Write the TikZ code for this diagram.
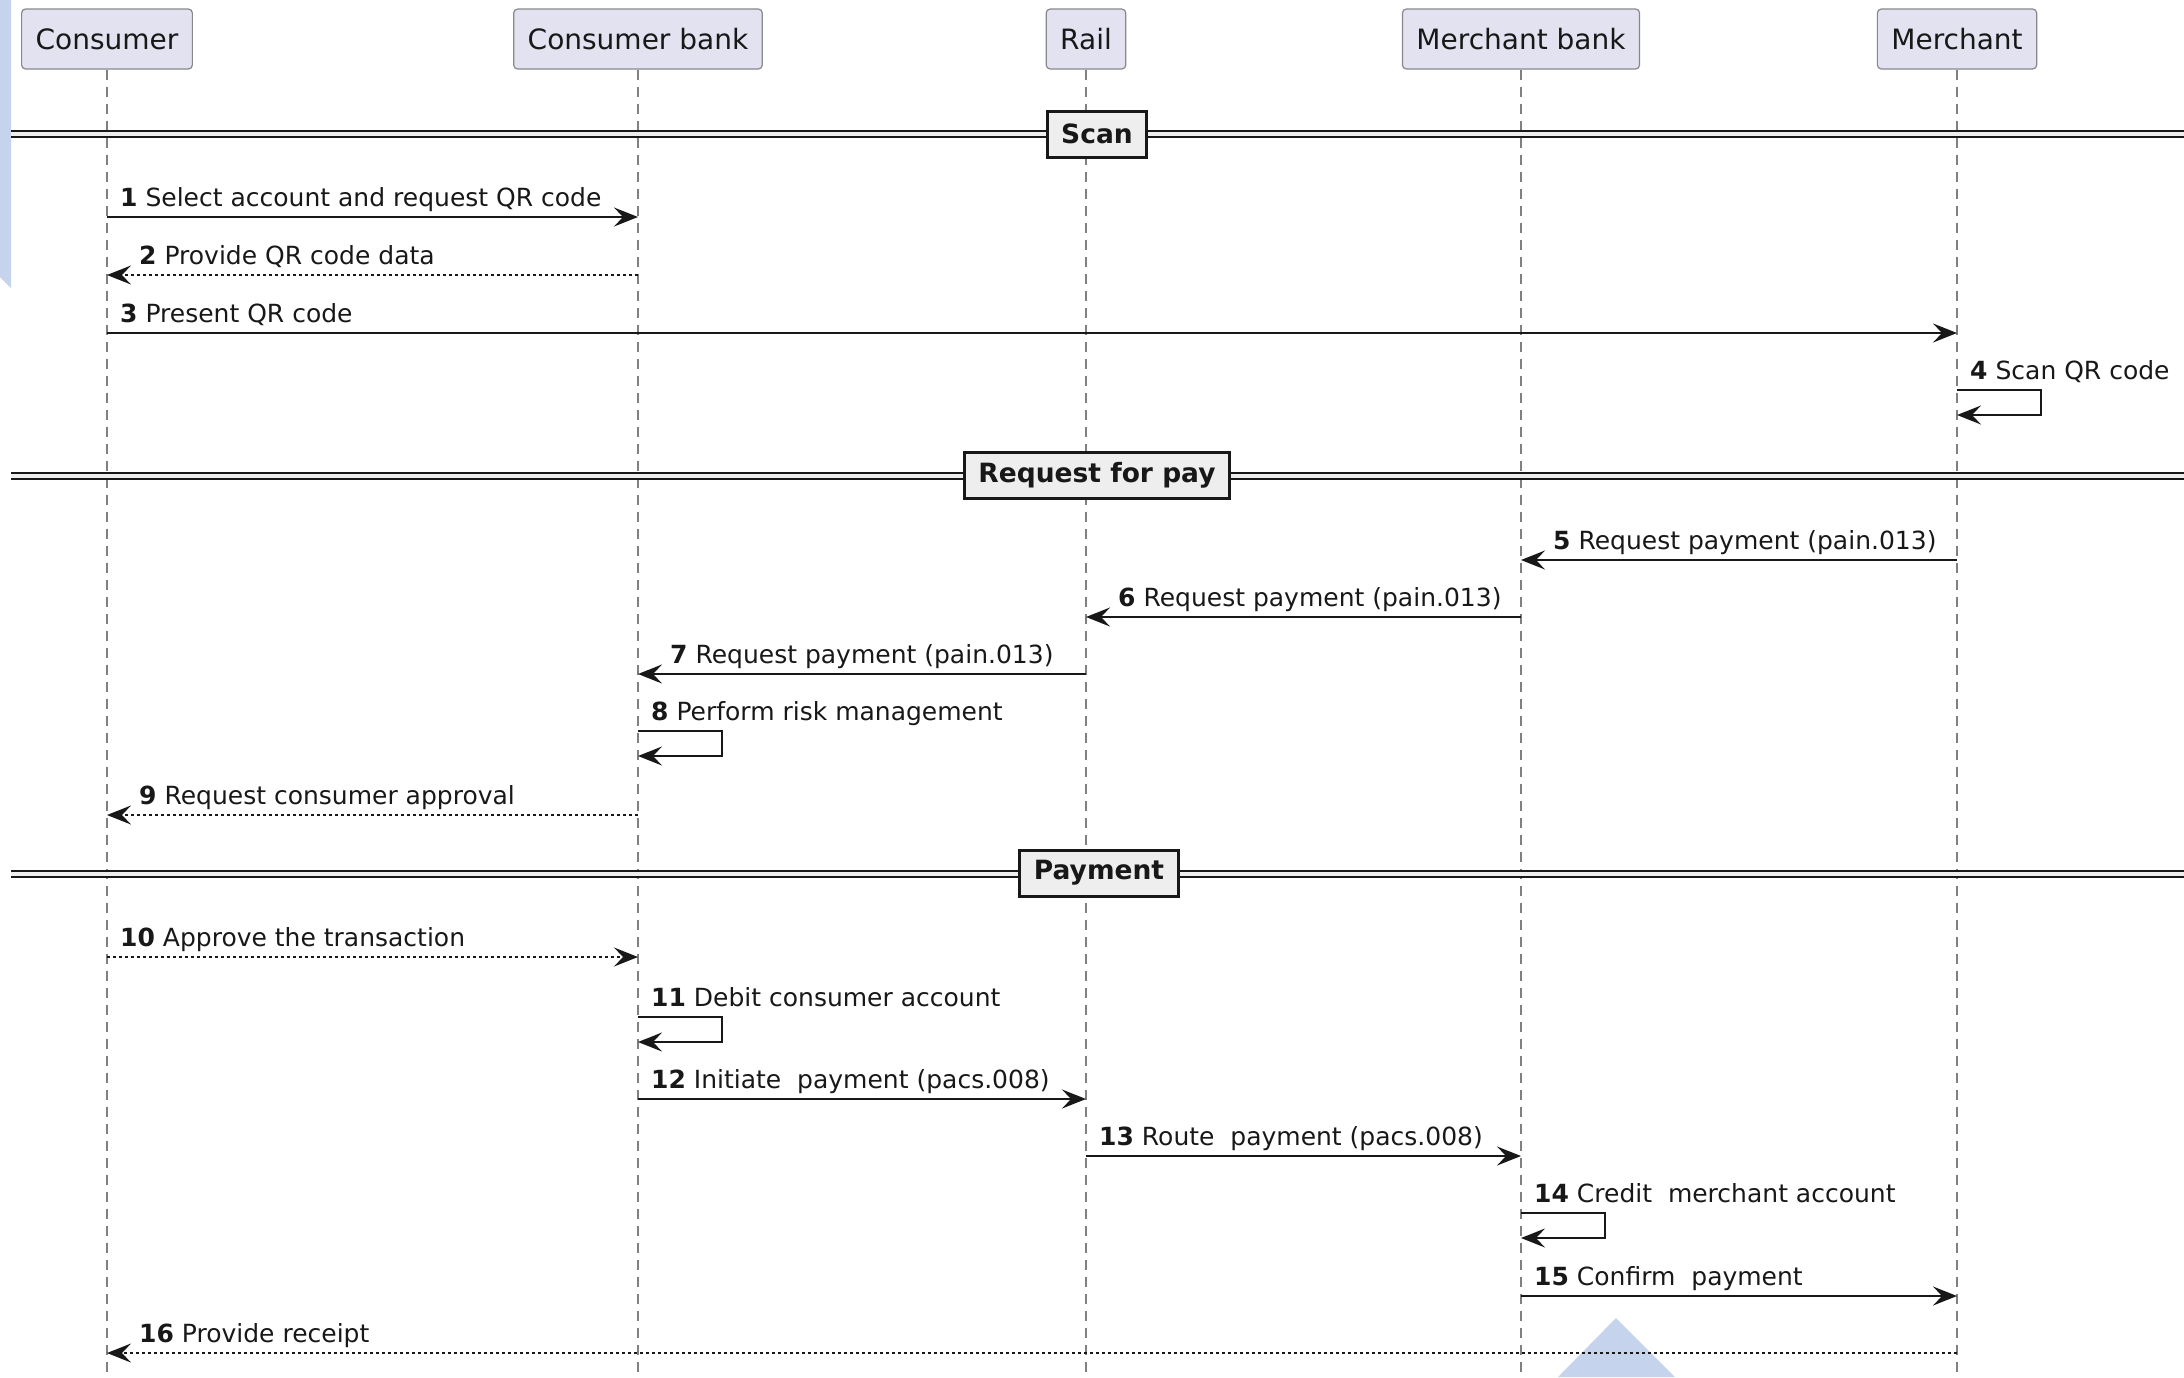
\documentclass[tikz,border=0pt]{standalone}
\usepackage{fontspec}
\setmainfont{DejaVu Sans}
\usetikzlibrary{arrows.meta}
\definecolor{partfill}{RGB}{226,226,240}
\definecolor{partline}{RGB}{136,136,140}
\definecolor{ink}{RGB}{24,24,24}
\definecolor{sepfill}{RGB}{238,238,238}
\definecolor{wmark}{RGB}{197,211,236}
\tikzstyle{participant} = [rectangle, draw=partline, fill=partfill, text=ink,
    rounded corners=4pt, line width=1.2pt, minimum height=60pt, inner xsep=14pt,
    font=\fontsize{28}{32}\selectfont]
\tikzstyle{lifeline} = [draw=gray, line width=1.2pt, dash pattern=on 10pt off 7pt]
\tikzstyle{msg} = [draw=ink, line width=1.8pt, -{Stealth[length=24pt,width=19pt,inset=9pt]}]
\tikzstyle{reply} = [msg, line width=1.5pt, dash pattern=on 3pt off 3pt]
\tikzstyle{txt} = [anchor=base west, inner sep=0pt, text=ink, font=\fontsize{25}{30}\selectfont]
\tikzstyle{sep} = [draw=ink, line width=2pt, double=sepfill, double distance=3.5pt]
\tikzstyle{divider} = [rectangle, draw=ink, fill=sepfill, text=ink, line width=3pt,
    minimum height=46pt, inner xsep=14pt, font=\fontsize{26.5}{30}\selectfont\bfseries]

\begin{document}
\begin{tikzpicture}[x=1pt, y=-1pt]
  \useasboundingbox (0,0) rectangle (2184,1377);
  \fill [wmark] (0,0) -- (11,0) -- (11,288) -- (0,277) -- cycle;
  \fill [wmark] (1558,1377) -- (1616,1318) -- (1675,1377) -- cycle;
  % participants and lifelines
  \node [participant] (consumer) at (107,39) {Consumer};
  \node [participant] (cbank) at (638,39) {Consumer bank};
  \node [participant] (rail) at (1086,39) {Rail};
  \node [participant] (mbank) at (1521,39) {Merchant bank};
  \node [participant] (merchant) at (1957,39) {Merchant};
  \coordinate (bottom) at (0,1377);
  \foreach \p in {consumer, cbank, rail, mbank, merchant}
    \path [lifeline] (\p.south) -- (\p.south |- bottom);
  % message rows
  \coordinate (m1) at (0,217);
  \coordinate (m2) at (0,275);
  \coordinate (m3) at (0,333);
  \coordinate (m4) at (0,390);
  \coordinate (m4b) at (0,415);
  \coordinate (m5) at (0,560);
  \coordinate (m6) at (0,617);
  \coordinate (m7) at (0,674);
  \coordinate (m8) at (0,731);
  \coordinate (m8b) at (0,756);
  \coordinate (m9) at (0,815);
  \coordinate (m10) at (0,957);
  \coordinate (m11) at (0,1017);
  \coordinate (m11b) at (0,1042);
  \coordinate (m12) at (0,1099);
  \coordinate (m13) at (0,1156);
  \coordinate (m14) at (0,1213);
  \coordinate (m14b) at (0,1238);
  \coordinate (m15) at (0,1296);
  \coordinate (m16) at (0,1353);
  % Scan
  \path [sep] (11,134) -- (2184,134);
  \node [divider] (scan) at (1097,134) {Scan};
  \path [msg] (consumer |- m1) -- (cbank |- m1);
  \node [txt, xshift=13pt, yshift=11pt] (t1) at (consumer |- m1) {\textbf{1} Select account and request QR code};
  \path [reply] (cbank |- m2) -- (consumer |- m2);
  \node [txt, xshift=32pt, yshift=11pt] (t2) at (consumer |- m2) {\textbf{2} Provide QR code data};
  \path [msg] (consumer |- m3) -- (merchant |- m3);
  \node [txt, xshift=13pt, yshift=11pt] (t3) at (consumer |- m3) {\textbf{3} Present QR code};
  \path [msg] (merchant |- m4) -- ++(84,0) |- (merchant |- m4b);
  \node [txt, xshift=13pt, yshift=11pt] (t4) at (merchant |- m4) {\textbf{4} Scan QR code};
  % Request for pay
  \path [sep] (11,476) -- (2184,476);
  \node [divider] (rfp) at (1097,475) {Request for pay};
  \path [msg] (merchant |- m5) -- (mbank |- m5);
  \node [txt, xshift=32pt, yshift=11pt] (t5) at (mbank |- m5) {\textbf{5} Request payment (pain.013)};
  \path [msg] (mbank |- m6) -- (rail |- m6);
  \node [txt, xshift=32pt, yshift=11pt] (t6) at (rail |- m6) {\textbf{6} Request payment (pain.013)};
  \path [msg] (rail |- m7) -- (cbank |- m7);
  \node [txt, xshift=32pt, yshift=11pt] (t7) at (cbank |- m7) {\textbf{7} Request payment (pain.013)};
  \path [msg] (cbank |- m8) -- ++(84,0) |- (cbank |- m8b);
  \node [txt, xshift=13pt, yshift=11pt] (t8) at (cbank |- m8) {\textbf{8} Perform risk management};
  \path [reply] (cbank |- m9) -- (consumer |- m9);
  \node [txt, xshift=32pt, yshift=11pt] (t9) at (consumer |- m9) {\textbf{9} Request consumer approval};
  % Payment
  \path [sep] (11,874) -- (2184,874);
  \node [divider] (pay) at (1099,873) {Payment};
  \path [reply] (consumer |- m10) -- (cbank |- m10);
  \node [txt, xshift=13pt, yshift=11pt] (t10) at (consumer |- m10) {\textbf{10} Approve the transaction};
  \path [msg] (cbank |- m11) -- ++(84,0) |- (cbank |- m11b);
  \node [txt, xshift=13pt, yshift=11pt] (t11) at (cbank |- m11) {\textbf{11} Debit consumer account};
  \path [msg] (cbank |- m12) -- (rail |- m12);
  \node [txt, xshift=13pt, yshift=11pt] (t12) at (cbank |- m12) {\textbf{12} Initiate\ \ payment (pacs.008)};
  \path [msg] (rail |- m13) -- (mbank |- m13);
  \node [txt, xshift=13pt, yshift=11pt] (t13) at (rail |- m13) {\textbf{13} Route\ \ payment (pacs.008)};
  \path [msg] (mbank |- m14) -- ++(84,0) |- (mbank |- m14b);
  \node [txt, xshift=13pt, yshift=11pt] (t14) at (mbank |- m14) {\textbf{14} Credit\ \ merchant account};
  \path [msg] (mbank |- m15) -- (merchant |- m15);
  \node [txt, xshift=13pt, yshift=11pt] (t15) at (mbank |- m15) {\textbf{15} Confirm\ \ payment};
  \path [reply] (merchant |- m16) -- (consumer |- m16);
  \node [txt, xshift=32pt, yshift=11pt] (t16) at (consumer |- m16) {\textbf{16} Provide receipt};
\end{tikzpicture}
\end{document}
